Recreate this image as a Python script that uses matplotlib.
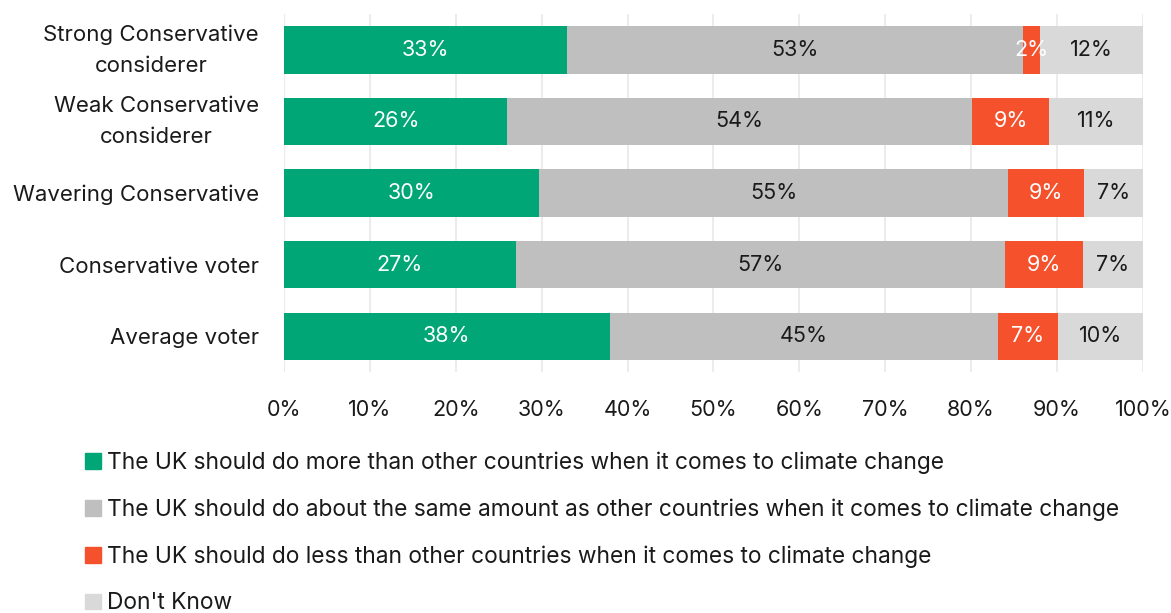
import numpy as np
import matplotlib.pyplot as plt
from matplotlib.patches import Patch
from matplotlib.ticker import PercentFormatter
from matplotlib.transforms import blended_transform_factory

plt.rcParams['font.family'] = ['Inter', 'DejaVu Sans']

groups = ["Strong Conservative\nconsiderer", "Weak Conservative\nconsiderer",
          "Wavering Conservative", "Conservative voter", "Average voter"]
more = [32.9, 26.0, 29.7, 27.0, 37.9]
same = [53.1, 54.1, 54.6, 57.0, 45.2]
less = [2.0, 9.0, 8.8, 9.0, 7.0]
dont_know = [12.0, 10.9, 6.9, 7.0, 9.9]

series_names = [
    "The UK should do more than other countries when it comes to climate change",
    "The UK should do about the same amount as other countries when it comes to climate change",
    "The UK should do less than other countries when it comes to climate change",
    "Don't Know",
]
colors = ["#00A676", "#BFBFBF", "#F4512C", "#D9D9D9"]
text_colors = ["white", "#1a1a1a", "white", "#1a1a1a"]

fig = plt.figure(figsize=(11.71, 6.13), dpi=100)
ax = fig.add_axes([0.2425, 0.393, 0.7335, 0.584])

y = np.arange(len(groups))
left = np.zeros(len(groups))
for vals, col, tcol, name in zip([more, same, less, dont_know], colors, text_colors, series_names):
    vals = np.array(vals)
    bars = ax.barh(y, vals, left=left, height=0.66, color=col, label=name, zorder=2)
    for b, v in zip(bars, vals):
        ax.text(b.get_x() + b.get_width() / 2, b.get_y() + b.get_height() / 2,
                f"{round(v):.0f}%", ha='center', va='center', color=tcol, fontsize=15.5, zorder=3)
    left += vals

ax.set_xlim(0, 100)
ax.set_ylim(len(groups) - 0.5, -0.5)
ax.set_yticks(y)
ax.set_yticklabels([])

# category labels drawn by hand, lines centred on each other
trans = blended_transform_factory(ax.transAxes, ax.transData)
for yi, g in zip(y, groups):
    dy = 0 if "\n" in g else 0.03
    ax.text(-0.029, yi + dy, g, transform=trans, ha='right', va='center',
            multialignment='center', fontsize=16, linespacing=1.7, color='#1a1a1a')

ax.set_xticks(np.arange(0, 101, 10))
ax.xaxis.set_major_formatter(PercentFormatter(decimals=0))
ax.tick_params(axis='x', labelsize=15.5, length=0, pad=20, labelcolor='#1a1a1a')
ax.tick_params(axis='y', length=0)
for s in ax.spines.values():
    s.set_visible(False)
ax.grid(axis='x', color='#ECECEC', linewidth=1.5, zorder=0)
ax.axvline(0, color='#DCDCDC', linewidth=1.5, zorder=1)

handles = [Patch(color=c) for c in colors]
fig.legend(handles, series_names, loc='upper left', bbox_to_anchor=(0.0725, 0.264),
           frameon=False, fontsize=16.4, handlelength=0.7, handleheight=0.7,
           handletextpad=0.25, labelspacing=1.08, borderaxespad=0, borderpad=0,
           labelcolor='#1a1a1a')

fig.savefig("out.png", dpi=100)
